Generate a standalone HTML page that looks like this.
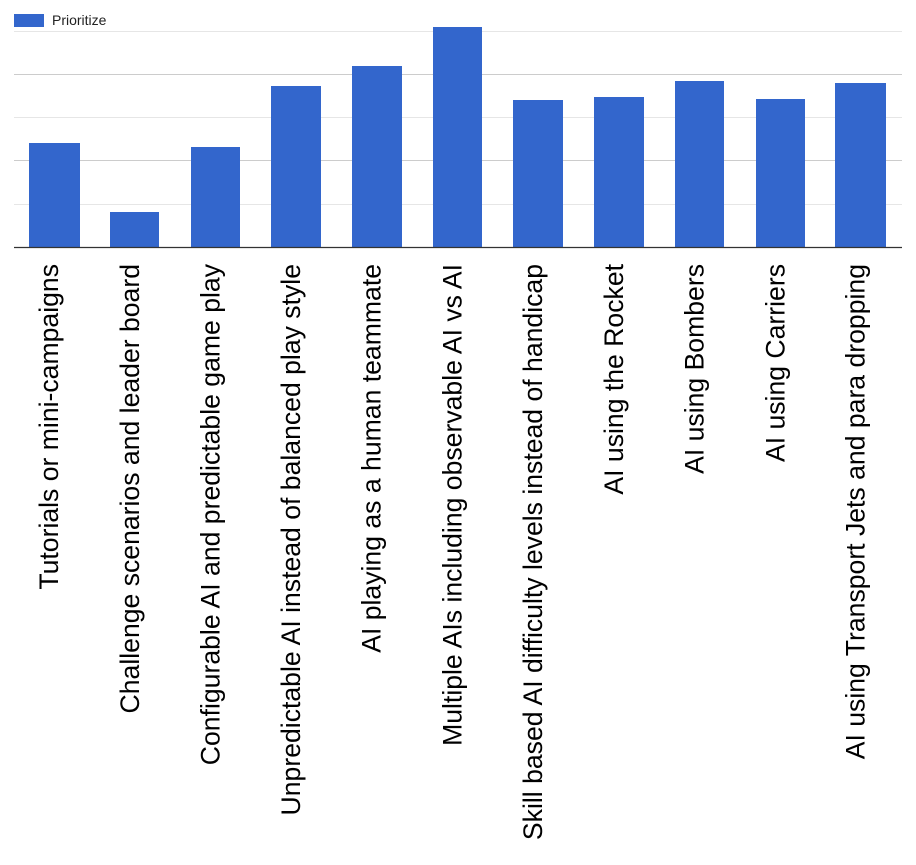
<!DOCTYPE html>
<html><head><style>body{margin:0;background:#fff}svg{display:block}</style></head><body>
<svg width="916" height="865" xmlns="http://www.w3.org/2000/svg" font-family="Liberation Sans, Arial, sans-serif">
<rect x="14" y="14" width="30" height="13" fill="#3366cc"/>
<text x="52" y="25" font-size="14" fill="#222">Prioritize</text>
<g stroke="#e6e6e6" stroke-width="1">
<line x1="14" x2="902" y1="31.5" y2="31.5"/>
<line x1="14" x2="902" y1="117.5" y2="117.5"/>
<line x1="14" x2="902" y1="204.5" y2="204.5"/>
</g>
<g stroke="#cccccc" stroke-width="1">
<line x1="14" x2="902" y1="74.5" y2="74.5"/>
<line x1="14" x2="902" y1="160.5" y2="160.5"/>
</g>
<g fill="#3366cc">
<rect x="29" y="143" width="51" height="104"/>
<rect x="110" y="212" width="49" height="35"/>
<rect x="191" y="147" width="49" height="100"/>
<rect x="271" y="86" width="50" height="161"/>
<rect x="352" y="66" width="50" height="181"/>
<rect x="433" y="27" width="49" height="220"/>
<rect x="513" y="100" width="50" height="147"/>
<rect x="594" y="97" width="50" height="150"/>
<rect x="675" y="81" width="49" height="166"/>
<rect x="756" y="99" width="49" height="148"/>
<rect x="835" y="83" width="51" height="164"/>
</g>
<line x1="14" x2="902" y1="247.5" y2="247.5" stroke="#333" stroke-width="1.2"/>
<g font-size="26.6" fill="#000" text-anchor="end">
<text transform="translate(58,264) rotate(-90)">Tutorials or mini-campaigns</text>
<text transform="translate(139,264) rotate(-90)">Challenge scenarios and leader board</text>
<text transform="translate(219.5,264) rotate(-90)">Configurable AI and predictable game play</text>
<text transform="translate(300,264) rotate(-90)">Unpredictable AI instead of balanced play style</text>
<text transform="translate(380.5,264) rotate(-90)">AI playing as a human teammate</text>
<text transform="translate(461.5,264) rotate(-90)">Multiple AIs including observable AI vs AI</text>
<text transform="translate(542,264) rotate(-90)">Skill based AI difficulty levels instead of handicap</text>
<text transform="translate(623,264) rotate(-90)">AI using the Rocket</text>
<text transform="translate(703.5,264) rotate(-90)">AI using Bombers</text>
<text transform="translate(784.5,264) rotate(-90)">AI using Carriers</text>
<text transform="translate(864.5,264) rotate(-90)">AI using Transport Jets and para dropping</text>
</g>
</svg>
</body></html>
